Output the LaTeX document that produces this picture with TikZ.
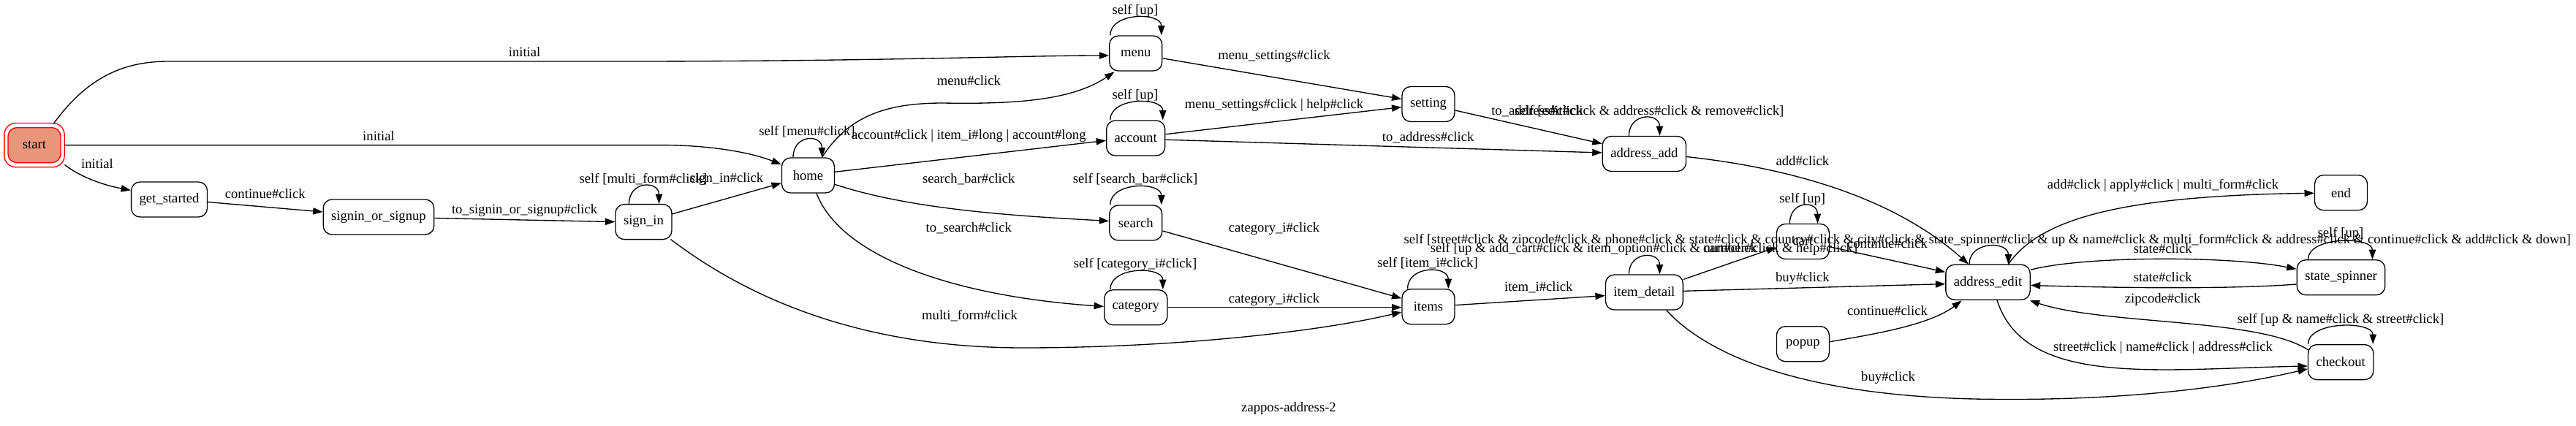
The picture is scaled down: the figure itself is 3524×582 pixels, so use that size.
\documentclass[tikz,border=0pt]{standalone}
\usepackage{fontspec}
\setmainfont{Liberation Serif}
\usetikzlibrary{arrows.meta,calc}
\definecolor{salmonfill}{HTML}{E9967A}
\tikzset{
 st/.style={draw, line width=1pt, rounded corners=9pt, minimum width=54pt, minimum height=36pt, inner xsep=8.25pt, inner ysep=0pt, font=\fontsize{14pt}{16pt}\selectfont},
 edge/.style={draw, line width=1pt, -{Triangle[length=10pt,width=7pt]}},
 lbl/.style={font=\fontsize{14pt}{16pt}\selectfont, inner sep=0pt, text height=9.5pt, text depth=2.5pt},
}
\newcommand\myloop[3]{\draw[edge] ($(#1.north)+(#2,0)$) .. controls ($(#1.north)+(#2,-32)$) and ($(#1.north)+(#3,-32)$) .. ($(#1.north)+(#3,0)$);}
\begin{document}
\begin{tikzpicture}[x=0.75pt,y=-0.75pt]
\useasboundingbox (0,0) rectangle (3524,582);
% nodes
\node[st, fill=salmonfill, draw=red] (start) at (47,198.6) {start};
\draw[red, line width=1pt, rounded corners=12pt] ($(start.south west)+(-4.5,5.5)$) rectangle ($(start.north east)+(4.5,-5.5)$);
\node[st] (get_started) at (231.6,273) {get\_started};
\node[st] (signin_or_signup) at (518,297) {signin\_or\_signup};
\node[st] (sign_in) at (880.5,303.6) {sign\_in};
\node[st] (home) at (1105.5,240) {home};
\node[st] (menu) at (1553.8,73) {menu};
\node[st] (account) at (1553.7,189) {account};
\node[st] (search) at (1553.8,305) {search};
\node[st] (category) at (1553.8,420.7) {category};
\node[st] (setting) at (1954,142.5) {setting};
\node[st] (address_add) at (2249.4,210.5) {address\_add};
\node[st] (items) at (1954,419.7) {items};
\node[st] (item_detail) at (2249.4,400) {item\_detail};
\node[st] (cart) at (2466.4,330.5) {cart};
\node[st] (popup) at (2466.4,470.7) {popup};
\node[st] (address_edit) at (2719.5,386.2) {address\_edit};
\node[st] (nend) at (3202.5,263.7) {end};
\node[st] (state_spinner) at (3202.5,379.7) {state\_spinner};
\node[st] (checkout) at (3202.2,495.6) {checkout};
% edges
\draw[edge] ($(start)+(26.5,-29.6)$) .. controls (120,105) and (170,84) .. (230,84) -- (850,84) .. controls (1200,84) and (1400,76) .. ($(menu.west)+(0,3)$);
\draw[edge] ($(start.east)+(4.5,0)$) -- (907,198.6) .. controls (960,198.6) and (1020,206) .. ($(home.west)+(0,-15)$);
\draw[edge] ($(start)+(41.5,27)$) .. controls (110,242) and (140,253) .. ($(get_started.west)+(0,-12.6)$);
\draw[edge] ($(get_started.east)+(0,3.5)$) -- ($(signin_or_signup.west)+(0,-7)$);
\draw[edge] ($(signin_or_signup.east)+(0,1.5)$) -- (sign_in.west);
\myloop{sign_in}{-20}{21}
\draw[edge] ($(sign_in)+(38.5,-10.6)$) -- ($(home.west)+(0,10.6)$);
\draw[edge] ($(sign_in)+(37,24)$) .. controls (1000,390) and (1150,476) .. (1400,476) .. controls (1600,476) and (1800,455) .. ($(items.west)+(0,7.3)$);
\myloop{home}{-20.5}{19}
\draw[edge] ($(home.north)+(19,0)$) .. controls (1160,160) and (1210,141) .. (1290,141) .. controls (1400,143) and (1470,135) .. ($(menu)+(-29.3,25.4)$);
\draw[edge] ($(home.east)+(0,-4.7)$) -- ($(account.west)+(0,3.3)$);
\draw[edge] ($(home.east)+(0,12.4)$) .. controls (1250,288) and (1400,296) .. ($(search.west)+(0,-2.5)$);
\draw[edge] ($(home.south)+(11.5,0)$) .. controls (1150,350) and (1300,405) .. ($(category.west)+(0,-1.3)$);
\myloop{menu}{-35}{35}
\draw[edge] ($(menu.east)+(0,6.8)$) -- ($(setting.west)+(0,-7)$);
\draw[edge] ($(account.east)+(0,-5.3)$) -- ($(setting.west)+(0,4.1)$);
\myloop{account}{-35}{37}
\draw[edge] ($(account.east)+(0,2.2)$) -- ($(address_add.west)+(0,-1.5)$);
\draw[edge] ($(setting.east)+(0,8.5)$) -- ($(address_add.west)+(0,-13.8)$);
\myloop{address_add}{-21}{21}
\draw[edge] ($(address_add.east)+(0,4)$) .. controls (2450,230) and (2590,270) .. ($(address_edit.north)+(-26.6,0)$);
\myloop{search}{-35}{35}
\draw[edge] ($(search.east)+(0,11)$) -- ($(items.west)+(0,-11.4)$);
\myloop{category}{-35}{37}
\draw[edge] (category.east) -- ($(items.west)+(0,1)$);
\myloop{items}{-28.4}{27.3}
\draw[edge] ($(items.east)+(0,-2.1)$) -- ($(item_detail.west)+(0,4.6)$);
\myloop{item_detail}{-21}{21}
\draw[edge] ($(item_detail.east)+(0,-17.7)$) -- ($(cart.west)+(0,8)$);
\draw[edge] ($(item_detail.east)+(0,-1.7)$) -- ($(address_edit.west)+(0,2.4)$);
\draw[edge] ($(item_detail.south)+(30.4,0)$) .. controls (2330,480) and (2450,540) .. (2700,546) .. controls (2900,550) and (3050,530) .. ($(checkout.west)+(0,9.2)$);
\myloop{cart}{-18}{20}
\draw[edge] ($(cart.east)+(0,7.3)$) -- ($(address_edit.west)+(0,-13.9)$);
\myloop{address_edit}{-25.5}{28}
\draw[edge] ($(address_edit.north)+(28,0)$) .. controls (2790,300) and (2900,268) .. ($(nend.west)+(0,0.6)$);
\draw[edge] ($(address_edit.east)+(0,-16.9)$) .. controls (2850,350) and (3050,350) .. ($(state_spinner.west)+(0,-11.5)$);
\draw[edge] ($(state_spinner.west)+(0,9.3)$) .. controls (3050,396) and (2900,394) .. ($(address_edit.east)+(0,4.3)$);
\myloop{state_spinner}{-45}{43}
\draw[edge] ($(checkout)+(-44.7,-16.8)$) .. controls (3090,435) and (2880,445) .. ($(address_edit)+(57.2,25.1)$);
\draw[edge] ($(address_edit.south)+(12.5,0)$) .. controls (2770,530) and (2950,505) .. ($(checkout.west)+(0,5.4)$);
\myloop{checkout}{-44.7}{44}
\draw[edge] ($(popup.east)+(0,-3)$) .. controls (2560,458) and (2640,445) .. ($(address_edit)+(-36,25.1)$);
% labels
\node[lbl] (l1) at (717.6,72.4) {initial};
\node[lbl] (l2) at (518,187.5) {initial};
\node[lbl] (l3) at (133,225.7) {initial};
\node[lbl] (l4) at (362.8,267.3) {continue\#click};
\node[lbl] (l5) at (717.6,288) {to\_signin\_or\_signup\#click};
\node[lbl] (l6) at (880,245.7) {self [multi\_form\#click]};
\node[lbl] (l7) at (994,245) {sign\_in\#click};
\node[lbl] (l8) at (1326.5,432.4) {multi\_form\#click};
\node[lbl] (l9) at (1104,181) {self [menu\#click]};
\node[lbl] (l10) at (1325.3,111.4) {menu\#click};
\node[lbl] (l11) at (1325.3,186.3) {account\#click | item\_i\#long | account\#long};
\node[lbl] (l12) at (1325.3,245.7) {search\_bar\#click};
\node[lbl] (l13) at (1325.3,313) {to\_search\#click};
\node[lbl] (l14) at (1553,14.8) {self [up]};
\node[lbl] (l15) at (1743,76.8) {menu\_settings\#click};
\node[lbl] (l16) at (1743,144) {menu\_settings\#click | help\#click};
\node[lbl] (l17) at (1553,130.7) {self [up]};
\node[lbl] (l18) at (1953.7,189.3) {to\_address\#click};
\node[lbl] (l19) at (2103,153) {to\_address\#click};
\node[lbl] (l20) at (2256,153) {self [edit\#click \& address\#click \& remove\#click]};
\node[lbl] (l21) at (2465.8,221.6) {add\#click};
\node[lbl] (l22) at (1553,246) {self [search\_bar\#click]};
\node[lbl] (l23) at (1743,313) {category\_i\#click};
\node[lbl] (l24) at (1553,362) {self [category\_i\#click]};
\node[lbl] (l25) at (1743,409.4) {category\_i\#click};
\node[lbl] (l26) at (1953,360.8) {self [item\_i\#click]};
\node[lbl] (l27) at (2104.7,394.2) {item\_i\#click};
\node[lbl] (l28) at (2249,340.8) {self [up \& add\_cart\#click \& item\_option\#click \& number\#click \& help\#click]};
\node[lbl] (l29) at (2367,340.8) {cart\#click};
\node[lbl] (l30) at (2465.8,381.2) {buy\#click};
\node[lbl] (l31) at (2583,517) {buy\#click};
\node[lbl] (l32) at (2465.8,272.8) {self [up]};
\node[lbl] (l33) at (2582,335.2) {continue\#click};
\node[lbl] (l34) at (2718.6,329.3) {self [street\#click \& zipcode\#click \& phone\#click \& state\#click \& country\#click \& city\#click \& state\_spinner\#click \& up \& name\#click \& multi\_form\#click \& address\#click \& continue\#click \& add\#click \& down]};
\node[lbl] (l35) at (2959,254.3) {add\#click | apply\#click | multi\_form\#click};
\node[lbl] (l36) at (2958.7,342.2) {state\#click};
\node[lbl] (l37) at (2958.7,380.5) {state\#click};
\node[lbl] (l38) at (3202,320) {self [up]};
\node[lbl] (l39) at (2958.7,409.4) {zipcode\#click};
\node[lbl] (l40) at (2959,476) {street\#click | name\#click | address\#click};
\node[lbl] (l41) at (3202,438) {self [up \& name\#click \& street\#click]};
\node[lbl] (l42) at (2582,426.9) {continue\#click};
\node[lbl] (title) at (1763,559) {zappos-address-2};
\end{tikzpicture}
\end{document}
